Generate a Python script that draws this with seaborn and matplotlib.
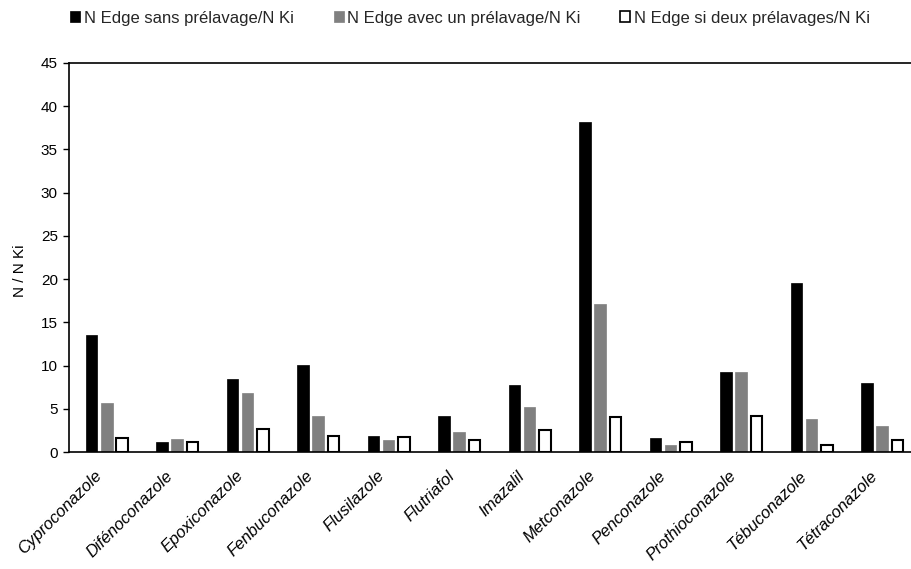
import matplotlib
matplotlib.use("Agg")
import matplotlib.pyplot as plt
import matplotlib.transforms as mtransforms
import seaborn as sns
import pandas as pd
from matplotlib.patches import Patch

categories = ["Cyproconazole", "Difénoconazole", "Epoxiconazole", "Fenbuconazole",
              "Flusilazole", "Flutriafol", "Imazalil", "Metconazole", "Penconazole",
              "Prothioconazole", "Tébuconazole", "Tétraconazole"]
series_names = ["N Edge sans prélavage/N Ki", "N Edge avec un prélavage/N Ki",
                "N Edge si deux prélavages/N Ki"]
sans = [13.5, 1.15, 8.5, 10.1, 1.8, 4.2, 7.7, 38.2, 1.6, 9.2, 19.6, 8.0]
un = [5.7, 1.5, 6.8, 4.2, 1.4, 2.35, 5.2, 17.1, 0.8, 9.2, 3.8, 2.95]
deux = [1.65, 1.2, 2.65, 1.9, 1.75, 1.35, 2.55, 4.05, 1.15, 4.2, 0.85, 1.35]
yticks = [0, 5, 10, 15, 20, 25, 30, 35, 40, 45]

rows = []
for name, vals in zip(series_names, [sans, un, deux]):
    for c, v in zip(categories, vals):
        rows.append({"cat": c, "serie": name, "val": v})
df = pd.DataFrame(rows)

sns.set_theme(style="white")
plt.rcParams["font.family"] = ["Liberation Sans", "DejaVu Sans"]

fig = plt.figure(figsize=(9.11, 5.69), dpi=100)
ax = fig.add_axes([69 / 911, 1 - 452 / 569, 1 - 69 / 911, (452 - 63) / 569])

colors = ["#000000", "#808080", "#ffffff"]
sns.barplot(data=df, x="cat", y="val", hue="serie", order=categories,
            hue_order=series_names, palette=colors, width=0.65, gap=0.24,
            legend=False, ax=ax, saturation=1)

for i, cont in enumerate(ax.containers):
    for p in cont:
        if i == 2:
            p.set_edgecolor("black")
            p.set_linewidth(1.5)
        else:
            p.set_edgecolor(colors[i])
            p.set_linewidth(0.5)

ax.set_xlim(-0.535, 11.41)
ax.set_ylim(0, 45)
ax.tick_params(axis="y", direction="out", length=4, width=1, color="black", pad=4, left=True)
ax.tick_params(axis="x", length=0, pad=14)
ax.set_yticks(yticks)
ax.set_yticklabels([str(t) for t in yticks], fontsize=11, color="black")
ax.set_xticks(range(len(categories)))
ax.set_xticklabels(categories, rotation=45, ha="right", va="center",
                   rotation_mode="anchor", fontsize=12, style="italic", color="black")
offset = mtransforms.ScaledTranslation(-7 / 100, -2 / 100, fig.dpi_scale_trans)
for lbl in ax.get_xticklabels():
    lbl.set_transform(lbl.get_transform() + offset)
ax.set_xlabel("")
ax.set_ylabel("N / N Ki", fontsize=11, color="black")
ax.yaxis.set_label_coords(-0.05, 0.465)

for s in ["left", "bottom", "top"]:
    ax.spines[s].set_visible(True)
    ax.spines[s].set_color("black")
    ax.spines[s].set_linewidth(1.2)
ax.spines["right"].set_visible(False)

handles = [Patch(facecolor=colors[0], edgecolor="black", linewidth=0.5),
           Patch(facecolor=colors[1], edgecolor="#808080", linewidth=0.5),
           Patch(facecolor=colors[2], edgecolor="black", linewidth=1.2)]
fig.legend(handles, series_names, loc="center", bbox_to_anchor=(470 / 911, 1 - 18 / 569),
           ncol=3, frameon=False, fontsize=12, handlelength=0.6, handleheight=0.6,
           handletextpad=0.2, columnspacing=2.4)

fig.savefig("out.png", dpi=100, facecolor="white")
